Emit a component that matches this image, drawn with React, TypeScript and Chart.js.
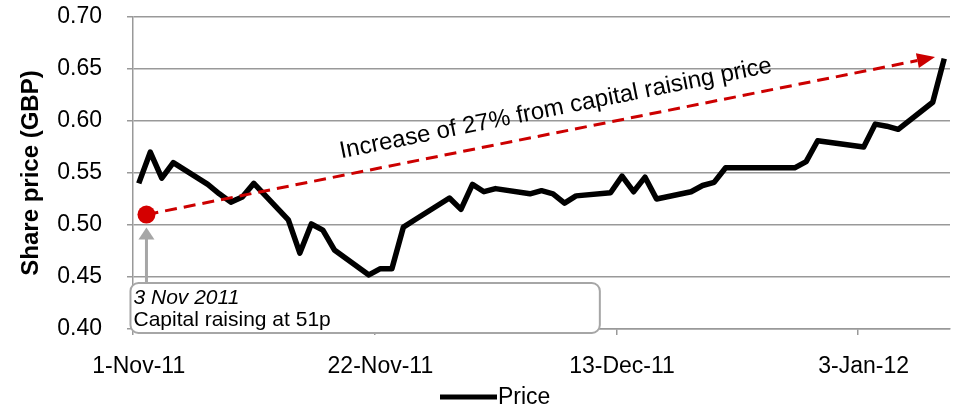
import React, { useEffect, useRef } from "react";
import { Chart, registerables } from "chart.js";

Chart.register(...registerables);

// ---------- data ----------
const DATES: string[] = [
  "2011-11-01", "2011-11-02", "2011-11-03", "2011-11-04",
  "2011-11-07", "2011-11-08", "2011-11-09", "2011-11-10", "2011-11-11",
  "2011-11-14", "2011-11-15", "2011-11-16", "2011-11-17", "2011-11-18",
  "2011-11-21", "2011-11-22", "2011-11-23", "2011-11-24", "2011-11-25",
  "2011-11-28", "2011-11-29", "2011-11-30", "2011-12-01", "2011-12-02",
  "2011-12-05", "2011-12-06", "2011-12-07", "2011-12-08", "2011-12-09",
  "2011-12-12", "2011-12-13", "2011-12-14", "2011-12-15", "2011-12-16",
  "2011-12-19", "2011-12-20", "2011-12-21", "2011-12-22", "2011-12-23",
  "2011-12-28", "2011-12-29", "2011-12-30",
  "2012-01-03", "2012-01-04", "2012-01-05", "2012-01-06",
  "2012-01-09", "2012-01-10",
];
const PRICES: number[] = [
  0.540, 0.570, 0.545, 0.560,
  0.539, 0.530, 0.522, 0.527, 0.540,
  0.505, 0.473, 0.501, 0.495, 0.476,
  0.452, 0.458, 0.458, 0.498, 0.505,
  0.526, 0.515, 0.539, 0.532, 0.535,
  0.530, 0.533, 0.530, 0.521, 0.528,
  0.531, 0.547, 0.532, 0.546, 0.525,
  0.532, 0.538, 0.541, 0.555, 0.555,
  0.555, 0.561, 0.581,
  0.575, 0.597, 0.595, 0.592,
  0.618, 0.660,
];
const X_TICK_DATES: string[] = ["2011-11-01", "2011-11-22", "2011-12-13", "2012-01-03"];
const X_TICK_LABELS: string[] = ["1-Nov-11", "22-Nov-11", "13-Dec-11", "3-Jan-12"];
const Y_MIN = 0.4;
const Y_MAX = 0.7;
const Y_STEP = 0.05;
const SERIES_LABEL = "Price";
const Y_TITLE = "Share price (GBP)";
const ARROW_TEXT = "Increase of 27% from capital raising price";
const NOTE_DATE = "3 Nov 2011";
const NOTE_TEXT = "Capital raising at 51p";
const CAPITAL_PRICE = 0.51;

// ---------- helpers ----------
const START = Date.parse(DATES[0]);
const dayOf = (s: string) => Math.round((Date.parse(s) - START) / 86400000);
const LAST_DAY = dayOf(DATES[DATES.length - 1]);

// annotation anchors (in data units: day offset, price)
const DOT = { day: 0.67, price: CAPITAL_PRICE };
const TIP = { day: 69.2, price: 0.6615 };
const TEXT_AT = { day: 17.6, price: 0.5641 };
const BOX = { d0: -0.72, d1: 40.07, top: 0.4442, bottom: 0.3962 };

const FONT = '"Liberation Sans", Arial, Helvetica, sans-serif';
const GRID = "#999999";
const NOTE_GRAY = "#a6a6a6";
const RED = "#cc0000";

const notesPlugin = {
  id: "notes",
  afterDatasetsDraw(chart: any) {
    const { ctx } = chart;
    const xs = chart.scales.x;
    const ys = chart.scales.y;
    const px = (d: number) => xs.getPixelForValue(d);
    const py = (v: number) => ys.getPixelForValue(v);
    ctx.save();

    // note box
    const bx0 = px(BOX.d0), bx1 = px(BOX.d1), by0 = py(BOX.top), by1 = py(BOX.bottom);
    ctx.beginPath();
    ctx.roundRect(bx0, by0, bx1 - bx0, by1 - by0, 8);
    ctx.fillStyle = "#ffffff";
    ctx.fill();
    ctx.lineWidth = 2;
    ctx.strokeStyle = NOTE_GRAY;
    ctx.stroke();
    ctx.fillStyle = "#000000";
    ctx.textAlign = "left";
    ctx.textBaseline = "alphabetic";
    ctx.font = `italic 21px ${FONT}`;
    ctx.fillText(NOTE_DATE, bx0 + 3, by0 + 21);
    ctx.font = `21px ${FONT}`;
    ctx.fillText(NOTE_TEXT, bx0 + 3, by0 + 43);

    // gray pointer arrow
    const dx = px(DOT.day), dy = py(DOT.price);
    ctx.strokeStyle = NOTE_GRAY;
    ctx.lineWidth = 3;
    ctx.beginPath();
    ctx.moveTo(dx, by0);
    ctx.lineTo(dx, dy + 22);
    ctx.stroke();
    ctx.fillStyle = NOTE_GRAY;
    ctx.beginPath();
    ctx.moveTo(dx, dy + 13);
    ctx.lineTo(dx - 8, dy + 25);
    ctx.lineTo(dx + 8, dy + 25);
    ctx.closePath();
    ctx.fill();

    // red dashed arrow
    const tx = px(TIP.day), ty = py(TIP.price);
    const ang = Math.atan2(ty - dy, tx - dx);
    const headLen = 18, headHalf = 7.5;
    const ex = tx - headLen * Math.cos(ang), ey = ty - headLen * Math.sin(ang);
    ctx.strokeStyle = RED;
    ctx.lineWidth = 3;
    ctx.setLineDash([12, 7]);
    ctx.beginPath();
    ctx.moveTo(dx, dy);
    ctx.lineTo(ex, ey);
    ctx.stroke();
    ctx.setLineDash([]);
    ctx.fillStyle = RED;
    ctx.beginPath();
    ctx.moveTo(tx, ty);
    ctx.lineTo(ex - headHalf * Math.sin(ang), ey + headHalf * Math.cos(ang));
    ctx.lineTo(ex + headHalf * Math.sin(ang), ey - headHalf * Math.cos(ang));
    ctx.closePath();
    ctx.fill();

    // red dot
    ctx.fillStyle = "#d40000";
    ctx.beginPath();
    ctx.arc(dx, dy, 9, 0, Math.PI * 2);
    ctx.fill();

    // rotated label
    ctx.save();
    ctx.translate(px(TEXT_AT.day), py(TEXT_AT.price));
    ctx.rotate(ang);
    ctx.fillStyle = "#000000";
    ctx.font = `24px ${FONT}`;
    ctx.textAlign = "left";
    ctx.textBaseline = "alphabetic";
    ctx.fillText(ARROW_TEXT, 0, 0);
    ctx.restore();

    ctx.restore();
  },
  afterDraw(chart: any) {
    // legend
    const { ctx } = chart;
    ctx.save();
    const y = 397;
    const lx = 440;
    ctx.strokeStyle = "#000000";
    ctx.lineWidth = 5;
    ctx.beginPath();
    ctx.moveTo(lx, y);
    ctx.lineTo(lx + 57, y);
    ctx.stroke();
    ctx.fillStyle = "#000000";
    ctx.font = `23px ${FONT}`;
    ctx.textAlign = "left";
    ctx.textBaseline = "middle";
    ctx.fillText(SERIES_LABEL, lx + 58, y + 1);
    ctx.restore();
  },
};

export default function App() {
  const ref = useRef<HTMLCanvasElement | null>(null);

  useEffect(() => {
    if (!ref.current) return;
    const points = DATES.map((d, i) => ({ x: dayOf(d), y: PRICES[i] }));
    const tickDays = X_TICK_DATES.map(dayOf);
    const chart = new Chart(ref.current, {
      type: "line",
      data: {
        datasets: [
          {
            label: SERIES_LABEL,
            data: points,
            borderColor: "#000000",
            backgroundColor: "#000000",
            borderWidth: 5.5,
            pointRadius: 0,
            tension: 0,
            borderJoinStyle: "round",
            borderCapStyle: "butt",
          },
        ],
      },
      options: {
        animation: false,
        responsive: false,
        events: [],
        layout: { padding: { top: 17, right: 5, left: 0, bottom: 0 } },
        plugins: {
          legend: { display: false },
          tooltip: { enabled: false },
        },
        scales: {
          x: {
            type: "linear",
            min: -0.5,
            max: LAST_DAY + 0.5,
            afterBuildTicks: (scale: any) => {
              scale.ticks = tickDays.map((d) => ({ value: d - 0.5 }));
            },
            afterFit: (scale: any) => {
              scale.height = 81;
              scale.paddingLeft = 0;
              scale.paddingRight = 0;
            },
            ticks: {
              autoSkip: false,
              maxRotation: 0,
              minRotation: 0,
              padding: 18,
              labelOffset: 5.75,
              color: "#000000",
              font: { family: FONT, size: 23 },
              callback: (v: any) => {
                const idx = tickDays.indexOf(Math.round(Number(v) + 0.5));
                return idx >= 0 ? X_TICK_LABELS[idx] : "";
              },
            },
            grid: {
              display: true,
              drawOnChartArea: false,
              drawTicks: true,
              tickLength: 6,
              color: GRID,
              lineWidth: 1.5,
            },
            border: { display: true, color: GRID, width: 1.5 },
          },
          y: {
            type: "linear",
            min: Y_MIN,
            max: Y_MAX,
            afterFit: (scale: any) => {
              scale.width = 133;
              scale.paddingTop = 0;
              scale.paddingBottom = 0;
            },
            ticks: {
              stepSize: Y_STEP,
              padding: 25,
              color: "#000000",
              font: { family: FONT, size: 23 },
              callback: (v: any) => Number(v).toFixed(2),
            },
            title: {
              display: true,
              text: Y_TITLE,
              color: "#000000",
              font: { family: FONT, size: 24, weight: "bold" },
              padding: { top: 17, bottom: 0 },
            },
            grid: {
              color: GRID,
              lineWidth: 1.5,
              tickLength: 6,
              drawTicks: true,
            },
            border: { display: true, color: GRID, width: 1.5 },
          },
        },
      },
      plugins: [notesPlugin],
    });
    return () => chart.destroy();
  }, []);

  return (
    <div style={{ position: "absolute", left: 0, top: 0, width: 955, height: 410 }}>
      <canvas ref={ref} width={955} height={410} style={{ display: "block" }} />
    </div>
  );
}
